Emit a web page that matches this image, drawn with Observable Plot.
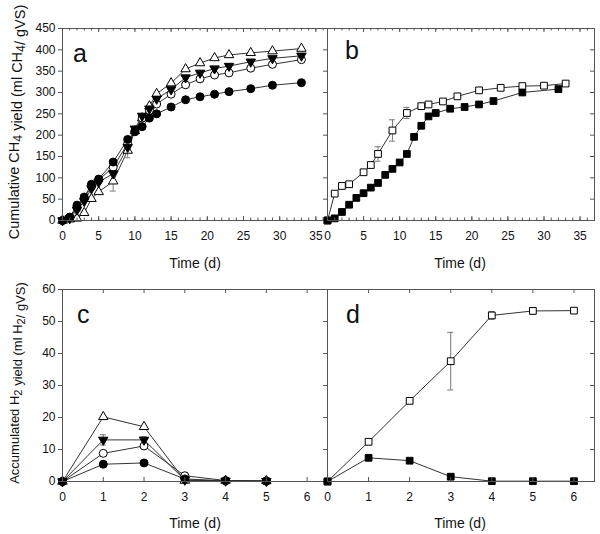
<!DOCTYPE html>
<html><head><meta charset="utf-8">
<script src="https://cdn.jsdelivr.net/npm/d3@7"></script>
<script src="https://cdn.jsdelivr.net/npm/@observablehq/plot@0.6"></script>
<style>
body{margin:0;background:#fff;}
#chart{position:relative;width:600px;height:534px;font-family:"Liberation Sans",Arial,sans-serif;background:#fff;}
#chart svg{position:absolute;left:0;top:0;}
</style></head><body><div id="chart"></div>
<script>
// ---- Panel a: cumulative CH4 (ml CH4/gVS) ----
const tA = [0,1,2,3,4,5,7,9,10,11,12,13,15,17,19,21,23,26,29,33];
const aFilledCircle = [0,8,36,55,85,97,137,190,208,220,240,250,266,283,290,296,302,309,317,323];
const aOpenCircle   = [0,7,30,53,80,95,125,180,210,240,258,273,296,318,332,341,346,357,366,377];
const aFilledTri    = [0,5,25,45,75,90,110,172,215,245,262,285,307,335,346,356,362,372,380,386];
const aOpenTri      = [0,3,5,18,51,67,92,164,210,240,268,297,322,355,369,381,388,393,397,403];
const aOpenTriErr   = [0,0,0,3,0,0,23,17,0,0,0,0,0,0,0,0,0,0,0,0];
const aOpenCircleErr= [0,0,0,0,0,0,0,0,6,8,0,0,0,0,0,0,0,0,0,0];

// ---- Panel b ----
const tBOpen = [0,1,2,3,5,6,7,9,11,13,14,16,18,21,24,27,30,33];
const bOpenSq = [0,63,81,85,113,130,156,211,252,268,272,279,291,305,311,315,316,321];
const bOpenSqErr = [0,0,0,0,4,6,17,25,13,4,0,0,0,0,0,0,0,0];
const tBFilled = [0,1,2,3,4,5,6,7,8,9,10,11,12,13,14,15,17,19,21,23,27,32];
const bFilledSq = [0,5,20,37,53,64,77,88,107,121,136,156,196,222,244,252,262,266,272,280,300,308];

// ---- Panel c: accumulated H2 ----
const tC = [0,1,2,3,4,5];
const cFilledCircle = [0,5.4,5.8,0.8,0.2,0.1];
const cOpenCircle   = [0,8.8,11.1,1.8,0.3,0.2];
const cOpenCircleErr= [0,0,0,0.8,0,0];
const cFilledTri    = [0,13,13,0.5,0.2,0.1];
const cFilledTriErr = [0,1.6,1.0,0,0,0];
const cOpenTri      = [0,20.2,17.1,0.3,0.3,0.2];

// ---- Panel d ----
const tD = [0,1,2,3,4,5,6];
const dOpenSq = [0,12.4,25.2,37.6,51.9,53.3,53.4];
const dOpenSqErr = [0,0,0,9,1.2,1.0,0.8];
const dFilledSq = [0,7.4,6.5,1.5,0.1,0.1,0.1];

// tick labels
const xTicksLong = [0,5,10,15,20,25,30,35];
const xTicksShort = [0,1,2,3,4,5,6];
const yTicksCH4 = [0,50,100,150,200,250,300,350,400,450];
const yTicksH2 = [0,10,20,30,40,50,60];

const styles = {
  filledCircle: {symbol:"circle", fill:"black", rotate:0, r:4},
  openCircle:   {symbol:"circle", fill:"white", rotate:0, r:4},
  filledTri:    {symbol:"triangle", fill:"black", rotate:180, r:3.5},
  openTri:      {symbol:"triangle", fill:"white", rotate:0, r:3.5},
  filledSq:     {symbol:"square", fill:"black", rotate:0, r:3.8},
  openSq:       {symbol:"square", fill:"white", rotate:0, r:3.8}
};

function rows(name, t, v, e) {
  return t.map((x,i)=>({s:name, t:x, v:v[i], e:e ? e[i] : 0}));
}

const W = 600, H = 534;
const LINE = "#333", FRAME = "#555", ERR = "#777";

function panel({left,right,top,bottom,xDomain,yDomain,xMajor,xMinor,yMajor,yLabels,series}) {
  const iw = right-left, ih = bottom-top;
  const marks = [];
  for (const [name, data] of series) {
    marks.push(Plot.line(data, {x:"t", y:"v", stroke:LINE, strokeWidth:1}));
  }
  for (const [name, data] of series) {
    const ed = data.filter(d=>d.e>0);
    marks.push(Plot.ruleX(ed, {x:"t", y1:d=>d.v-d.e, y2:d=>d.v+d.e, stroke:ERR, strokeWidth:1}));
    marks.push(Plot.ruleY(ed, {x1:"t", x2:"t", y:d=>d.v+d.e, insetLeft:-3, insetRight:-3, stroke:ERR}));
    marks.push(Plot.ruleY(ed, {x1:"t", x2:"t", y:d=>d.v-d.e, insetLeft:-3, insetRight:-3, stroke:ERR}));
  }
  for (const [name, data] of series) {
    const st = styles[name];
    marks.push(Plot.dot(data, {x:"t", y:"v", symbol:()=>st.symbol, r:st.r, fill:st.fill, stroke:"black", strokeWidth:1, rotate:st.rotate}));
  }
  // ticks
  marks.push(Plot.tickX(xMajor, {x:d=>d, insetTop:ih-4, stroke:FRAME}));
  marks.push(Plot.tickX(xMajor, {x:d=>d, insetBottom:ih-4, stroke:FRAME}));
  if (xMinor) {
    marks.push(Plot.tickX(xMinor, {x:d=>d, insetTop:ih-2.5, stroke:FRAME}));
    marks.push(Plot.tickX(xMinor, {x:d=>d, insetBottom:ih-2.5, stroke:FRAME}));
  }
  marks.push(Plot.tickY(yMajor, {y:d=>d, insetLeft:iw-4, stroke:FRAME}));
  marks.push(Plot.frame({stroke:FRAME, strokeWidth:1}));
  marks.push(Plot.axisX({ticks:xMajor, tickSize:0, tickPadding:11, label:null, tickFormat:d=>String(d)}));
  if (yLabels) {
    marks.push(Plot.axisY({ticks:yMajor, tickSize:4, tickPadding:3, label:null, stroke:FRAME, tickFormat:d=>String(d)}));
  }
  return Plot.plot({
    width:W, height:H,
    marginLeft:left, marginRight:W-right, marginTop:top, marginBottom:H-bottom,
    x:{domain:xDomain},
    y:{domain:yDomain, axis: yLabels ? undefined : null},
    style:{background:"transparent", fontSize:"12px", fontFamily:"'Liberation Sans', Arial, sans-serif", color:"#111", overflow:"visible"},
    marks
  });
}

const minorLong = d3.range(0, 37);
const chart = document.getElementById("chart");

chart.append(panel({left:62,right:327,top:28,bottom:220,xDomain:[0,36.6],yDomain:[0,450],
  xMajor:xTicksLong, xMinor:minorLong, yMajor:yTicksCH4, yLabels:true,
  series:[["openTri",rows("openTri",tA,aOpenTri,aOpenTriErr)],["openCircle",rows("openCircle",tA,aOpenCircle,aOpenCircleErr)],
          ["filledTri",rows("filledTri",tA,aFilledTri)],["filledCircle",rows("filledCircle",tA,aFilledCircle)]]}));

chart.append(panel({left:327,right:594,top:28,bottom:220,xDomain:[0,37],yDomain:[0,450],
  xMajor:xTicksLong, xMinor:minorLong, yMajor:yTicksCH4, yLabels:false,
  series:[["openSq",rows("openSq",tBOpen,bOpenSq,bOpenSqErr)],["filledSq",rows("filledSq",tBFilled,bFilledSq)]]}));

chart.append(panel({left:62,right:327,top:289,bottom:481,xDomain:[0,6.5],yDomain:[0,60],
  xMajor:xTicksShort, xMinor:null, yMajor:yTicksH2, yLabels:true,
  series:[["openTri",rows("openTri",tC,cOpenTri)],["openCircle",rows("openCircle",tC,cOpenCircle,cOpenCircleErr)],
          ["filledTri",rows("filledTri",tC,cFilledTri,cFilledTriErr)],["filledCircle",rows("filledCircle",tC,cFilledCircle)]]}));

chart.append(panel({left:327,right:594,top:289,bottom:481,xDomain:[0,6.5],yDomain:[0,60],
  xMajor:xTicksShort, xMinor:null, yMajor:yTicksH2, yLabels:false,
  series:[["openSq",rows("openSq",tD,dOpenSq,dOpenSqErr)],["filledSq",rows("filledSq",tD,dFilledSq)]]}));

// text overlay
const svg = d3.select(chart).append("svg").attr("width",W).attr("height",H)
  .style("font-family","'Liberation Sans', Arial, sans-serif").attr("fill","#111");

function sub(textSel, parts, size) {
  for (const [s, isSub] of parts) {
    if (isSub) {
      textSel.append("tspan").attr("dy", 3).attr("font-size", size*0.85).text(s);
      textSel.append("tspan").attr("dy", -3).text("");
    } else {
      textSel.append("tspan").text(s);
    }
  }
}
const t1 = svg.append("text").attr("transform","translate(19,122) rotate(-90)").attr("text-anchor","middle").attr("font-size",14.5);
sub(t1, [["Cumulative CH",false],["4",true],[" yield (ml CH",false],["4",true],["/ gVS)",false]], 14.5);
const t2 = svg.append("text").attr("transform","translate(19,383) rotate(-90)").attr("text-anchor","middle").attr("font-size",13);
sub(t2, [["Accumulated H",false],["2",true],[" yield (ml H",false],["2",true],["/ gVS)",false]], 13);

const timeLabels = [[195,268],[460,268],[195,528],[460,528]];
for (const [x,y] of timeLabels) {
  svg.append("text").attr("x",x).attr("y",y).attr("text-anchor","middle").attr("font-size",14).text("Time (d)");
}
const letters = [["a",73,62],["b",345,59],["c",77,323],["d",346,323]];
for (const [l,x,y] of letters) {
  svg.append("text").attr("x",x).attr("y",y).attr("font-size",25).text(l);
}
</script></body></html>
